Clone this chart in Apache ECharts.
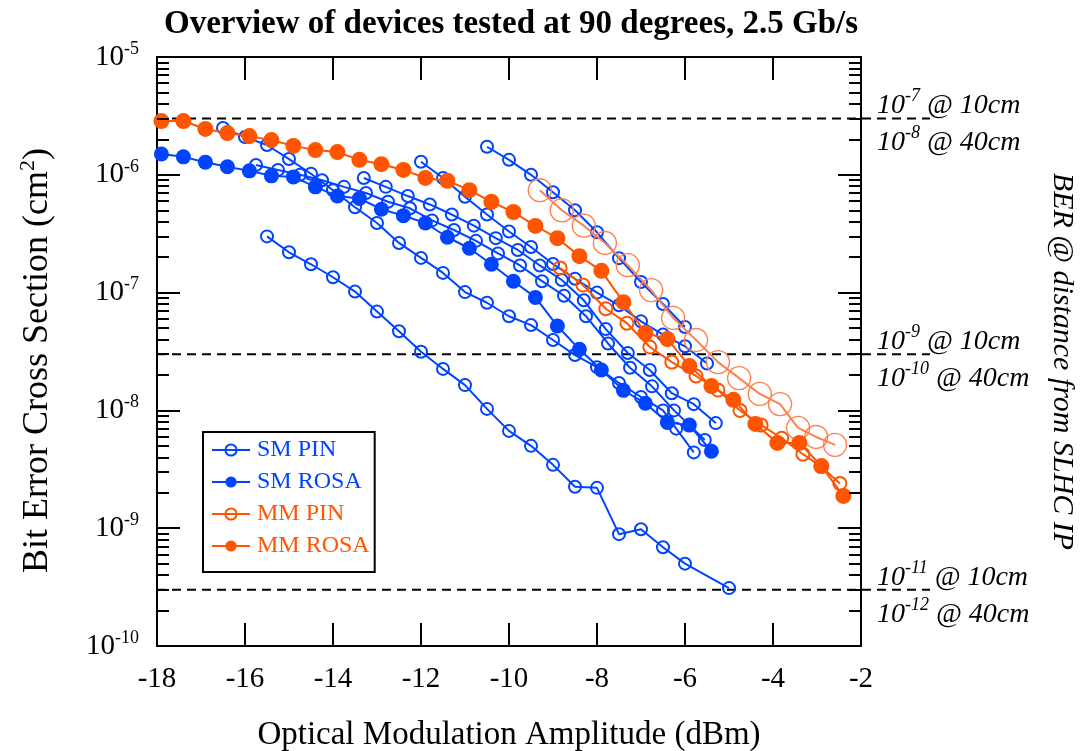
<!DOCTYPE html>
<html><head><meta charset="utf-8">
<script src="https://cdn.jsdelivr.net/npm/echarts@6/dist/echarts.min.js"></script>
<style>html,body{margin:0;padding:0;background:#fff}#c{width:1081px;height:751px}</style>
</head><body><div id="c"></div>
<script>
// ---------- data ----------
const xTicks = [-18,-16,-14,-12,-10,-8,-6,-4,-2];
const refLevels = [3e-6, 3e-8, 3e-10];
const refLabelsTop = [['-7','10cm'],['-9','10cm'],['-11','10cm']];
const refLabelsBot = [['-8','40cm'],['-10','40cm'],['-12','40cm']];

// SM PIN (open blue)
const smPinLow_x = [-15.5,-15,-14.5,-14,-13.5,-13,-12.5,-12,-11.5,-11,-10.5,-10,-9.5,-9,-8.5,-8,-7.5,-7,-6.5,-6,-5];
const smPinLow_y = [3.0e-7,2.2e-7,1.74e-7,1.35e-7,1.02e-7,6.9e-8,4.7e-8,3.15e-8,2.25e-8,1.64e-8,1.03e-8,6.7e-9,5.0e-9,3.45e-9,2.25e-9,2.2e-9,8.9e-10,9.8e-10,6.9e-10,5.0e-10,3.1e-10];
const smPinA_x = [-16.5,-16,-15.5,-15,-14.5,-14,-13.5,-13,-12.5,-12,-11.5,-11,-10.5,-10,-9.5,-9,-8.5,-8,-7.5,-7,-6.5,-6.2,-5.8];
const smPinA_y = [2.5e-6,2.09e-6,1.79e-6,1.36e-6,1.02e-6,7.4e-7,5.3e-7,3.9e-7,2.64e-7,1.97e-7,1.47e-7,1.01e-7,8.2e-8,6.3e-8,5.3e-8,3.96e-8,2.95e-8,2.33e-8,1.71e-8,1.3e-8,1.0e-8,7.0e-9,4.4e-9];
const smPinTop_x = [-10.5,-10,-9.5,-9,-8.5,-8,-7.5,-7,-6.5,-6];
const smPinTop_y = [1.73e-6,1.34e-6,1.0e-6,7.1e-7,5.0e-7,3.25e-7,1.96e-7,1.23e-7,8.0e-8,5.1e-8];
const smPinD_x = [-12,-11.5,-11,-10.5,-10,-9.5,-9,-8.5,-8,-7.5,-7,-6.5,-6,-5.5];
const smPinD_y = [1.29e-6,9.4e-7,6.5e-7,4.6e-7,3.3e-7,2.44e-7,1.75e-7,1.31e-7,1.0e-7,7.8e-8,5.7e-8,4.4e-8,3.5e-8,2.5e-8];
const smPinE_x = [-13.3,-12.8,-12.3,-11.8,-11.3,-10.8,-10.3,-9.8,-9.3,-8.8,-8.3,-7.8,-7.3,-6.8,-6.3,-5.8,-5.3];
const smPinE_y = [9.4e-7,7.9e-7,6.6e-7,5.6e-7,4.6e-7,3.7e-7,2.9e-7,2.3e-7,1.7e-7,1.28e-7,8.6e-8,4.9e-8,3.07e-8,2.2e-8,1.4e-8,1.13e-8,7.8e-9];
const smPinF_x = [-15.75,-15.25,-14.75,-14.25,-13.75,-13.25,-12.75,-12.25,-11.75,-11.25,-10.75,-10.25,-9.75,-9.25,-8.75,-8.25,-7.75,-7.25,-6.75,-6.25,-5.55];
const smPinF_y = [1.21e-6,1.1e-6,1.0e-6,9.0e-7,7.9e-7,7.0e-7,5.9e-7,5.2e-7,4.1e-7,3.4e-7,2.75e-7,2.15e-7,1.7e-7,1.25e-7,9.4e-8,6.3e-8,3.7e-8,2.3e-8,1.6e-8,1.0e-8,5.6e-9];

// SM ROSA (filled blue)
const smRosa_x = [-17.9,-17.4,-16.9,-16.4,-15.9,-15.4,-14.9,-14.4,-13.9,-13.4,-12.9,-12.4,-11.9,-11.4,-10.9,-10.4,-9.9,-9.4,-8.9,-8.4,-7.9,-7.4,-6.9,-6.4,-5.9,-5.4];
const smRosa_y = [1.5e-6,1.42e-6,1.28e-6,1.17e-6,1.08e-6,9.8e-7,9.6e-7,7.9e-7,6.6e-7,6.3e-7,5.1e-7,4.5e-7,3.9e-7,2.95e-7,2.38e-7,1.74e-7,1.25e-7,9.1e-8,5.2e-8,3.3e-8,2.2e-8,1.48e-8,1.15e-8,7.9e-9,7.5e-9,4.5e-9];

// MM PIN (open orange)
const mmPinA_x = [-9.3,-8.8,-8.3,-7.82,-7.3,-6.77,-6.27,-5.75,-5.25,-4.77,-4.3,-3.84,-3.43,-3.02,-2.59];
const mmPinA_y = [7.4e-7,5.0e-7,3.7e-7,2.64e-7,1.71e-7,1.05e-7,6.1e-8,3.96e-8,2.57e-8,1.88e-8,1.38e-8,1.13e-8,7.1e-9,5.95e-9,5.1e-9];
const mmPinB_x = [-8.84,-8.32,-7.8,-7.32,-6.8,-6.3,-5.75,-5.25,-4.75,-4.27,-3.8,-3.32,-2.91,-2.48];
const mmPinB_y = [1.62e-7,1.16e-7,7.3e-8,5.5e-8,3.45e-8,2.57e-8,1.96e-8,1.49e-8,1.0e-8,7.5e-9,5.8e-9,4.25e-9,3.35e-9,2.4e-9];

// MM ROSA (filled orange)
const mmRosa_x = [-17.9,-17.4,-16.9,-16.4,-15.9,-15.4,-14.9,-14.4,-13.9,-13.4,-12.9,-12.4,-11.9,-11.4,-10.9,-10.4,-9.9,-9.4,-8.9,-8.4,-7.9,-7.4,-6.9,-6.4,-5.9,-5.4,-4.9,-4.4,-3.9,-3.4,-2.9,-2.4];
const mmRosa_y = [2.86e-6,2.86e-6,2.45e-6,2.26e-6,2.13e-6,1.97e-6,1.76e-6,1.62e-6,1.56e-6,1.34e-6,1.23e-6,1.10e-6,9.4e-7,8.9e-7,7.4e-7,5.9e-7,4.83e-7,3.68e-7,2.9e-7,2.04e-7,1.53e-7,8.3e-8,4.54e-8,4.04e-8,2.38e-8,1.61e-8,1.23e-8,7.68e-9,5.3e-9,5.3e-9,3.37e-9,1.88e-9];

// ---------- styles ----------
const BLUE = '#0044ff', ORANGE = '#ff5500', ORANGE_L = '#ff7f4d';
const FONT = '"Liberation Serif","DejaVu Serif",serif';

function zip(xs, ys){ return xs.map((x,i)=>[x, ys[i]]); }
function mk(name, xs, ys, color, open, size, bw, z){
  return {
    name, type:'line', xAxisIndex:0, yAxisIndex:0, data: zip(xs, ys),
    symbol:'circle', symbolSize:size, showSymbol:true, z: z||2,
    lineStyle:{color, width:2},
    itemStyle: open ? {color:'rgba(255,255,255,0)', borderColor:color, borderWidth:bw}
                    : {color, borderColor:color, borderWidth:0},
    emphasis:{disabled:true}, animation:false, clip:false
  };
}

// minor log ticks (2..9 per decade)
const minorTickValues = [];
for (let e = -10; e <= -6; e++) for (let k = 2; k <= 9; k++) minorTickValues.push(k * Math.pow(10, e));
const tickLen = 12/44;
const minorTickLines = [];
minorTickValues.forEach(v => {
  minorTickLines.push([{coord:[-18, v]}, {coord:[-18 + tickLen, v]}]);
  minorTickLines.push([{coord:[-2, v]}, {coord:[-2 - tickLen, v]}]);
});

const series = [
  mk('SM PIN', smPinLow_x, smPinLow_y, BLUE, true, 12, 2),
  mk('SM PIN', smPinA_x, smPinA_y, BLUE, true, 12, 2),
  mk('SM PIN', smPinTop_x, smPinTop_y, BLUE, true, 12, 2),
  mk('SM PIN', smPinD_x, smPinD_y, BLUE, true, 12, 2),
  mk('SM PIN', smPinE_x, smPinE_y, BLUE, true, 12, 2),
  mk('SM PIN', smPinF_x, smPinF_y, BLUE, true, 12, 2),
  mk('SM ROSA', smRosa_x, smRosa_y, BLUE, false, 15, 0),
  mk('MM PIN', mmPinB_x, mmPinB_y, ORANGE, true, 13, 2, 3),
  mk('MM PIN', mmPinA_x, mmPinA_y, ORANGE_L, true, 23, 1.4, 3),
  mk('MM ROSA', mmRosa_x, mmRosa_y, ORANGE, false, 16, 0, 4),
  { type:'line', xAxisIndex:0, yAxisIndex:0, data:[], silent:true,
    markLine:{ silent:true, symbol:['none','none'], animation:false,
      lineStyle:{color:'#000', width:2, type:'solid'}, label:{show:false}, data:minorTickLines } }
];

refLevels.forEach((v, i) => {
  const t = refLabelsTop[i], b = refLabelsBot[i];
  series.push({
    type:'line', xAxisIndex:2, yAxisIndex:2, data:[[0, v],[1, v]], symbol:'none', silent:true,
    lineStyle:{color:'#000', width:2, type:[9,6]}, z:1, animation:false,
    endLabel:{ show:true, distance:0, offset:[-53, 6],
      formatter: '{n|10}{s|' + t[0] + '}{n| @ ' + t[1] + '}\n{n|10}{s|' + b[0] + '}{n| @ ' + b[1] + '}',
      rich:{ n:{fontFamily:FONT, fontStyle:'italic', fontSize:28, color:'#000', lineHeight:37},
             s:{fontFamily:FONT, fontStyle:'italic', fontSize:18, color:'#000', lineHeight:18, verticalAlign:'top'} } }
  });
});

const axisLineStyle = {lineStyle:{color:'#000', width:2}};
const option = {
  backgroundColor:'#fff',
  animation:false,
  title:{ text:'Overview of devices tested at 90 degrees, 2.5 Gb/s', left:506, textAlign:'center', top:3,
    textStyle:{fontFamily:FONT, fontWeight:'bold', fontSize:33, color:'#000'} },
  legend:{ orient:'vertical', left:203, top:432, itemGap:8, itemWidth:38, itemHeight:14,
    padding:[6,5,14,8], borderColor:'#000', borderWidth:2, backgroundColor:'#fff',
    textStyle:{fontFamily:FONT, fontSize:24, padding:[0,0,0,2]},
    data:[
      {name:'SM PIN', textStyle:{color:BLUE}},
      {name:'SM ROSA', textStyle:{color:BLUE}},
      {name:'MM PIN', textStyle:{color:ORANGE}},
      {name:'MM ROSA', textStyle:{color:ORANGE}}
    ] },
  grid:[ {left:157, top:57, width:704, height:589, containLabel:false, outerBoundsMode:'none'},
         {left:157, top:57, width:773, height:589, containLabel:false, outerBoundsMode:'none'} ],
  xAxis:[
    { type:'value', gridIndex:0, min:-18, max:-2, interval:2, position:'bottom',
      axisLine:axisLineStyle, axisTick:{inside:true, length:23, lineStyle:{width:2, color:'#000'}},
      splitLine:{show:false},
      axisLabel:{fontFamily:FONT, fontSize:29, color:'#000', margin:19},
      name:'Optical Modulation Amplitude (dBm)', nameLocation:'middle', nameGap:73,
      nameTextStyle:{fontFamily:FONT, fontSize:33, color:'#000'} },
    { type:'value', gridIndex:0, min:-18, max:-2, interval:2, position:'top',
      axisLine:axisLineStyle, axisTick:{inside:true, length:23, lineStyle:{width:2, color:'#000'}},
      splitLine:{show:false}, axisLabel:{show:false} },
    { type:'value', gridIndex:1, min:0, max:1, show:false }
  ],
  yAxis:[
    { type:'log', gridIndex:0, min:1e-10, max:1e-5, logBase:10, position:'left',
      axisLine:axisLineStyle, axisTick:{inside:true, length:23, lineStyle:{width:2, color:'#000'}},
      splitLine:{show:false},
      axisLabel:{ margin:18, formatter: v => '{b|10}{s|' + Math.round(Math.log10(v)) + '}',
        rich:{ b:{fontFamily:FONT, fontSize:29, color:'#000', lineHeight:34},
               s:{fontFamily:FONT, fontSize:18, color:'#000', lineHeight:18, verticalAlign:'top'} } },
      name:'{a|Bit Error Cross Section (cm}{s|2}{a|)}', nameLocation:'middle', nameGap:98,
      nameTextStyle:{ padding:[0,18,0,0], rich:{ a:{fontFamily:FONT, fontSize:36, color:'#000', lineHeight:42},
                             s:{fontFamily:FONT, fontSize:22, color:'#000', lineHeight:22, verticalAlign:'top'} } } },
    { type:'log', gridIndex:0, min:1e-10, max:1e-5, logBase:10, position:'right',
      axisLine:axisLineStyle, axisTick:{inside:true, length:23, lineStyle:{width:2, color:'#000'}},
      splitLine:{show:false}, axisLabel:{show:false},
      name:'BER @ distance from SLHC IP', nameLocation:'middle', nameGap:186, nameRotate:-90,
      nameTextStyle:{fontFamily:FONT, fontStyle:'italic', fontSize:30, color:'#000', padding:[0,0,0,20]} },
    { type:'log', gridIndex:1, min:1e-10, max:1e-5, logBase:10, show:false }
  ],
  series
};
const chart = echarts.init(document.getElementById('c'), null, {renderer:'canvas'});
chart.setOption(option);
</script></body></html>
